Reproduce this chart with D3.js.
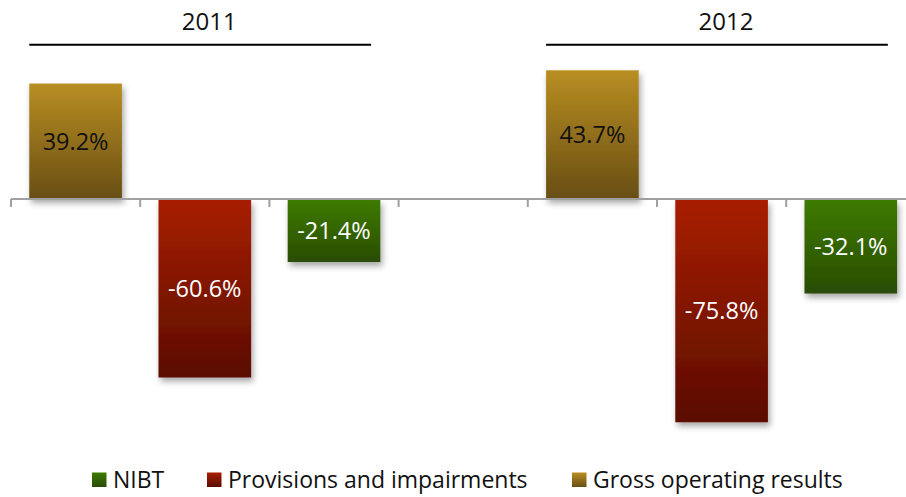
<!DOCTYPE html>
<html><head><meta charset="utf-8">
<script src="https://cdn.jsdelivr.net/npm/d3@7"></script>
<style>body{margin:0;background:#fff}svg{display:block;font-family:"Open Sans",sans-serif}</style>
</head><body><svg id="c" width="906" height="497"></svg>
<script>
const years = ["2011", "2012"];
const seriesNames = ["Gross operating results", "Provisions and impairments", "NIBT"];
const grossValues = [39.2, 43.7];
const provisionValues = [-60.6, -75.8];
const nibtValues = [-21.4, -32.1];
const legendOrder = ["NIBT", "Provisions and impairments", "Gross operating results"];
const colorsTop = {"Gross operating results":"#B98E22","Provisions and impairments":"#A81E00","NIBT":"#3D7B00"};
const colorsBottom = {"Gross operating results":"#684E14","Provisions and impairments":"#5A0D00","NIBT":"#2A4C07"};
const labelColor = {"Gross operating results":"#111","Provisions and impairments":"#fff","NIBT":"#fff"};

const seriesValues = [grossValues, provisionValues, nibtValues];
const slots = [];
const bars = [];
years.forEach((yr, yi) => {
  seriesNames.forEach((s, si) => {
    const key = yr + "|" + s;
    slots.push(key);
    bars.push({key, year: yr, series: s, value: seriesValues[si][yi]});
  });
  if (yi < years.length - 1) slots.push("gap" + yi);
});

const svg = d3.select("#c");
const x = d3.scaleBand().domain(slots).range([11, 915.4]).paddingInner(0.283).paddingOuter(0.1415);
const y = d3.scaleLinear().domain([-80, 50]).range([199 + 80 * 2.945, 199 - 50 * 2.945]);
const step = x.step();

const defs = svg.append("defs");
seriesNames.forEach((s, i) => {
  const g = defs.append("linearGradient").attr("id", "g" + i).attr("x1", 0).attr("y1", 0).attr("x2", 0).attr("y2", 1);
  g.append("stop").attr("offset", "0%").attr("stop-color", colorsTop[s]);
  g.append("stop").attr("offset", "100%").attr("stop-color", colorsBottom[s]);
});
const f = defs.append("filter").attr("id", "sh").attr("x", "-20%").attr("y", "-20%").attr("width", "140%").attr("height", "140%");
f.append("feDropShadow").attr("dx", 2).attr("dy", 4).attr("stdDeviation", 3).attr("flood-color", "#000").attr("flood-opacity", 0.35);

// bars
svg.append("g").selectAll("rect").data(bars).join("rect")
  .attr("x", d => x(d.key))
  .attr("width", x.bandwidth())
  .attr("y", d => d.value >= 0 ? y(d.value) : y(0) + 1)
  .attr("height", d => d.value >= 0 ? y(0) - y(d.value) : y(d.value) - y(0) - 1)
  .attr("fill", d => "url(#g" + seriesNames.indexOf(d.series) + ")")
  .attr("filter", "url(#sh)");

// axis
const axisG = svg.append("g");
const x0 = x.range()[0];
axisG.append("line").attr("x1", x0).attr("x2", 906).attr("y1", y(0)).attr("y2", y(0))
  .attr("stroke", "#a0a0a0").attr("stroke-width", 2);
const tickPos = d3.range(slots.length + 1).map(i => x0 + i * step).filter(v => v <= 906);
axisG.selectAll(".tk").data(tickPos).join("line")
  .attr("x1", d => d).attr("x2", d => d).attr("y1", y(0)).attr("y2", y(0) + 8)
  .attr("stroke", "#a0a0a0").attr("stroke-width", 2);

// value labels
svg.append("g").selectAll("text").data(bars).join("text")
  .attr("x", d => x(d.key) + x.bandwidth() / 2)
  .attr("y", d => (y(d.value) + y(0)) / 2)
  .attr("dy", "0.36em")
  .attr("text-anchor", "middle")
  .attr("font-size", 23.5)
  .attr("fill", d => labelColor[d.series])
  .text(d => d.value.toFixed(1) + "%");

// year headers
years.forEach(yr => {
  const a = x(yr + "|" + seriesNames[0]);
  const b = x(yr + "|" + seriesNames[2]) + x.bandwidth() * 0.9;
  svg.append("line").attr("x1", a).attr("x2", b).attr("y1", 44.7).attr("y2", 44.7)
    .attr("stroke", "#000").attr("stroke-width", 2);
  svg.append("text").attr("x", (a + b) / 2 + 9).attr("y", 29.5)
    .attr("text-anchor", "middle").attr("font-size", 24).attr("fill", "#111").text(yr);
});

// legend
const legendX = {"NIBT": 92, "Provisions and impairments": 207, "Gross operating results": 572};
const lg = svg.append("g");
legendOrder.forEach(s => {
  const i = seriesNames.indexOf(s);
  lg.append("rect").attr("x", legendX[s]).attr("y", 472.5).attr("width", 14.5).attr("height", 14.5)
    .attr("fill", "url(#g" + i + ")");
  lg.append("text").attr("x", legendX[s] + 21).attr("y", 488).attr("font-size", 23).attr("fill", "#111").text(s);
});
</script></body></html>
